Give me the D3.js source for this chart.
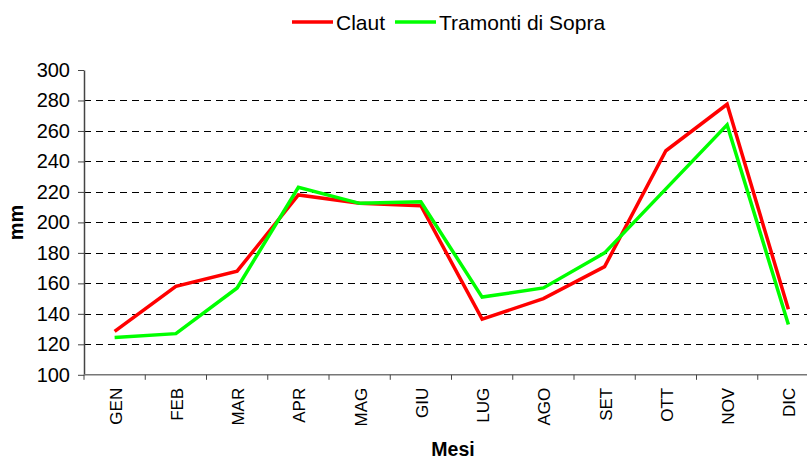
<!DOCTYPE html>
<html>
<head>
<meta charset="utf-8">
<script src="https://cdn.jsdelivr.net/npm/d3@7"></script>
<style>
  body { margin: 0; background: #fff; }
  svg { font-family: "Liberation Sans", Arial, sans-serif; display: block; }
</style>
</head>
<body>
<div id="chart"></div>
<script>
// dati
const mesi = ["GEN","FEB","MAR","APR","MAG","GIU","LUG","AGO","SET","OTT","NOV","DIC"];
const claut = [128.5, 158, 168, 218, 212.5, 211, 136.5, 150, 171, 247, 277.5, 143];
const tramonti = [124.5, 127, 157, 223, 212.5, 213.5, 151, 157, 180, 222, 264, 133];
const yTicks = [100,120,140,160,180,200,220,240,260,280,300];

const width = 807, height = 459;
const margin = {top: 70, right: -12, bottom: 84, left: 84};

const svg = d3.select("#chart").append("svg")
    .attr("width", width).attr("height", height);

const x = d3.scaleBand()
    .domain(mesi)
    .range([margin.left, width - margin.right]);

const y = d3.scaleLinear()
    .domain([100, 300])
    .range([height - margin.bottom - 0.2, margin.top]);

// griglia tratteggiata
svg.append("g")
  .selectAll("line")
  .data(yTicks.filter(d => d > 100 && d < 300))
  .join("line")
    .attr("x1", margin.left).attr("x2", width - margin.right)
    .attr("y1", d => Math.round(y(d)) + 0.5).attr("y2", d => Math.round(y(d)) + 0.5)
    .attr("stroke", "#000").attr("stroke-width", 1)
    .attr("stroke-dasharray", "7,5");

// asse y
svg.append("g")
    .attr("transform", `translate(${margin.left},0)`)
    .call(d3.axisLeft(y).tickValues(yTicks).tickSize(6).tickPadding(8).tickSizeOuter(0))
    .call(g => g.select(".domain").attr("stroke", "#444").attr("stroke-width", 1.5))
    .call(g => g.selectAll(".tick line").attr("stroke", "#444"))
    .call(g => g.selectAll(".tick text").attr("font-size", 20).attr("fill", "#000"));

// asse x
const xAxisG = svg.append("g")
    .attr("transform", `translate(0,${y(100)})`);
xAxisG.append("line")
    .attr("x1", margin.left).attr("x2", width)
    .attr("stroke", "#777").attr("stroke-width", 1.5);
xAxisG.selectAll(".tk")
  .data(mesi)
  .join("line")
    .attr("x1", d => x(d)).attr("x2", d => x(d))
    .attr("y1", 0).attr("y2", 5)
    .attr("stroke", "#444");
xAxisG.selectAll("text")
  .data(mesi)
  .join("text")
    .attr("transform", d => `translate(${x(d) + x.bandwidth() / 2 + 7},13) rotate(-90)`)
    .attr("text-anchor", "end")
    .attr("font-size", 17)
    .text(d => d);

// linee
const line = d3.line()
    .x((d, i) => x(mesi[i]) + x.bandwidth() / 2)
    .y(d => y(d));

svg.append("path")
    .datum(claut)
    .attr("d", line)
    .attr("fill", "none").attr("stroke", "#ff0000").attr("stroke-width", 3.5)
    .attr("stroke-linejoin", "miter");

svg.append("path")
    .datum(tramonti)
    .attr("d", line)
    .attr("fill", "none").attr("stroke", "#00ff00").attr("stroke-width", 3.5)
    .attr("stroke-linejoin", "miter");

// titoli assi
svg.append("text")
    .attr("transform", `translate(23,${(y(100) + y(300)) / 2}) rotate(-90)`)
    .attr("text-anchor", "middle")
    .attr("font-size", 20).attr("font-weight", "bold")
    .text("mm");

svg.append("text")
    .attr("x", 453).attr("y", 456)
    .attr("text-anchor", "middle")
    .attr("font-size", 19.5).attr("font-weight", "bold")
    .text("Mesi");

// legenda
const legend = [{name: "Claut", color: "#ff0000", x: 292}, {name: "Tramonti di Sopra", color: "#00ff00", x: 395}];
const lg = svg.append("g").selectAll("g").data(legend).join("g")
    .attr("transform", d => `translate(${d.x},22)`);
lg.append("line")
    .attr("x1", 0).attr("x2", 41)
    .attr("stroke", d => d.color).attr("stroke-width", 3.5);
lg.append("text")
    .attr("x", 44).attr("y", 7.5)
    .attr("font-size", 21)
    .text(d => d.name);
</script>
</body>
</html>
